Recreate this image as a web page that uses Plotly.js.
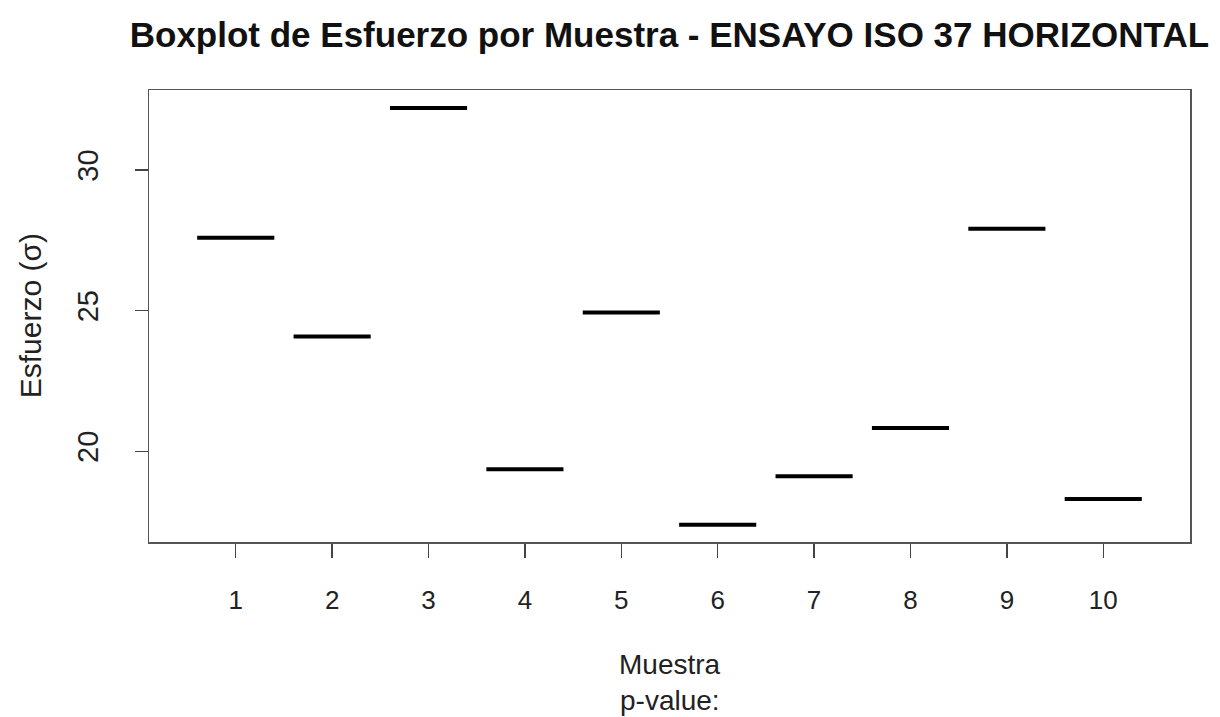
<!DOCTYPE html>
<html>
<head>
<meta charset="utf-8">
<script src="https://cdn.plot.ly/plotly-3.0.1.min.js"></script>
<style>html,body{margin:0;padding:0;background:#fff;}#chart{width:1220px;height:717px;}</style>
</head>
<body>
<div id="chart"></div>
<script>
const muestras = [1, 2, 3, 4, 5, 6, 7, 8, 9, 10];
const esfuerzo = [27.59, 24.08, 32.20, 19.36, 24.93, 17.38, 19.11, 20.82, 27.91, 18.30];
const yTicks = [20, 25, 30];
const titleText = 'Boxplot de Esfuerzo por Muestra - ENSAYO ISO 37 HORIZONTAL';
const xLabel = 'Muestra';
const xSubLabel = 'p-value:';
const yLabel = 'Esfuerzo (σ)';

const fontFam = '"Liberation Sans", Arial, sans-serif';

const trace = {
  type: 'box',
  x: muestras,
  y: esfuerzo,
  width: 0.8,
  boxpoints: false,
  fillcolor: 'rgba(0,0,0,0)',
  line: {color: '#000', width: 4},
  whiskerwidth: 0,
  hoverinfo: 'y',
  showlegend: false
};

const layout = {
  width: 1220, height: 717,
  paper_bgcolor: '#fff', plot_bgcolor: '#fff',
  margin: {l: 149, r: 30, t: 90, b: 175},
  font: {family: fontFam, color: '#222'},
  title: {
    text: '<b>' + titleText + '</b>',
    font: {family: fontFam, size: 35, color: '#111'},
    x: 0.5487, xanchor: 'center', y: 0.951, yanchor: 'middle'
  },
  xaxis: {
    range: [0.1, 10.9],
    tickvals: muestras,
    ticktext: muestras.map(String),
    ticks: 'outside', ticklen: 14, tickwidth: 1.3, tickcolor: '#444',
    ticklabelstandoff: 20,
    tickfont: {size: 26, color: '#222'},
    showline: true, linecolor: '#555', linewidth: 1.5, mirror: true,
    showgrid: false, zeroline: false
  },
  yaxis: {
    range: [16.77, 32.84],
    tickvals: yTicks,
    ticktext: yTicks.map(String),
    ticks: 'outside', ticklen: 13, tickwidth: 1.3, tickcolor: '#444',
    tickangle: -90,
    ticklabelstandoff: 25,
    tickfont: {size: 29, color: '#222'},
    showline: true, linecolor: '#555', linewidth: 1.5, mirror: true,
    showgrid: false, zeroline: false
  },
  annotations: [
    {text: xLabel, xref: 'paper', yref: 'paper', x: 0.5, y: -0.272, xanchor: 'center', yanchor: 'middle', showarrow: false, font: {size: 28, color: '#222'}},
    {text: xSubLabel, xref: 'paper', yref: 'paper', x: 0.5, y: -0.35, xanchor: 'center', yanchor: 'middle', showarrow: false, font: {size: 28, color: '#222'}},
    {text: yLabel, xref: 'paper', yref: 'paper', x: -0.114, y: 0.5, xanchor: 'center', yanchor: 'middle', textangle: -90, showarrow: false, font: {size: 30, color: '#222'}}
  ]
};

Plotly.newPlot('chart', [trace], layout, {displayModeBar: false, staticPlot: true});
</script>
</body>
</html>
